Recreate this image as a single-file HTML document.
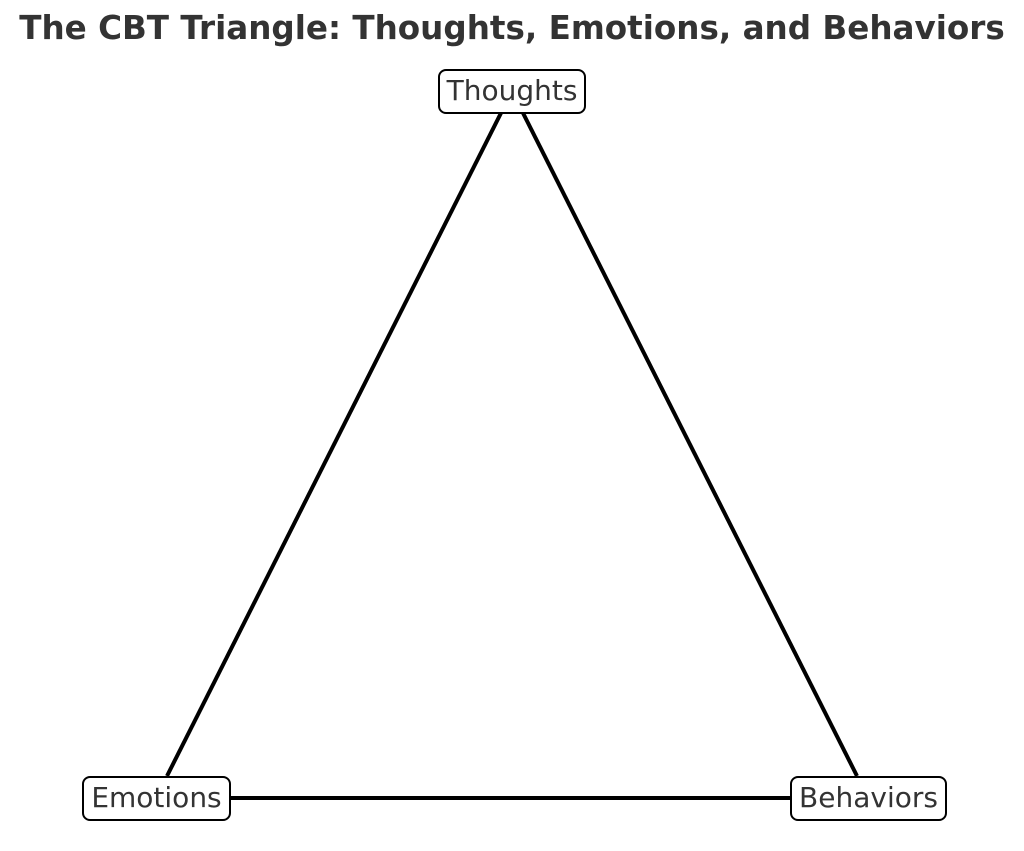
<!DOCTYPE html>
<html><head><meta charset="utf-8"><style>
html,body{margin:0;padding:0;background:#fff;}
body{width:1024px;height:851px;position:relative;overflow:hidden;font-family:"DejaVu Sans","Liberation Sans",sans-serif;}
.t{position:absolute;left:0;width:1024px;top:9px;text-align:center;font-weight:bold;font-size:32.6px;color:#333;white-space:nowrap;}
.b{position:absolute;box-sizing:border-box;border:2px solid #000;border-radius:8px;background:#fff;font-size:28px;color:#333;text-align:center;line-height:39px;height:45px;white-space:nowrap;}
</style></head><body>
<div class="t">The CBT Triangle: Thoughts, Emotions, and Behaviors</div>
<svg width="1024" height="851" style="position:absolute;left:0;top:0">
<g stroke="#000" stroke-width="4" stroke-linecap="butt">
<line x1="501" y1="113" x2="167" y2="776"/>
<line x1="523" y1="113" x2="857" y2="776"/>
<line x1="230" y1="798" x2="790" y2="798"/>
</g></svg>
<div class="b" style="left:438px;top:69px;width:148px;">Thoughts</div>
<div class="b" style="left:82px;top:776px;width:149px;">Emotions</div>
<div class="b" style="left:790px;top:776px;width:157px;">Behaviors</div>
</body></html>
